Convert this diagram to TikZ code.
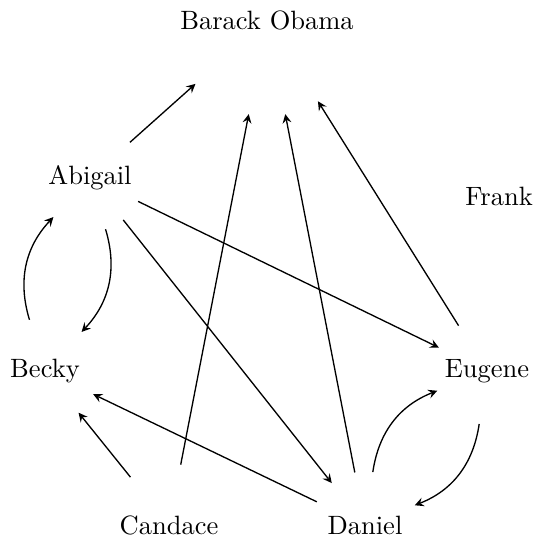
\documentclass[tikz,border=0pt]{standalone}
\usetikzlibrary{arrows}
\begin{document}
\begin{tikzpicture}[x=0.3774pt,y=-0.3774pt,
  person/.style={circle,minimum size=40pt,inner sep=0pt},
  bigperson/.style={circle,minimum size=72pt,inner sep=0pt},
  link/.style={-stealth,line width=0.5pt}]
\useasboundingbox (0,0) rectangle (534,540);
\node[bigperson] (b) at (267,20) {Barack Obama};
\node[person] (a) at (90,178) {Abigail};
\node[person] (f) at (499,196) {Frank};
\node[person] (be) at (45,371) {Becky};
\node[person] (e) at (487,371) {Eugene};
\node[person,minimum size=46pt] (c) at (169,525) {Candace};
\node[person] (d) at (365,525) {Daniel};
\draw[link] (a) -- (b);
\draw[link] (c) -- (b);
\draw[link] (d) -- (b);
\draw[link] (e) -- (b);
\draw[link] (a) -- (e);
\draw[link] (a) -- (d);
\draw[link] (d) -- (be);
\draw[link] (c) -- (be);
\draw[link] (be) to[bend left=30] (a);
\draw[link] (a) to[bend left=30] (be);
\draw[link] (d) to[bend left=30] (e);
\draw[link] (e) to[bend left=30] (d);
\end{tikzpicture}
\end{document}
